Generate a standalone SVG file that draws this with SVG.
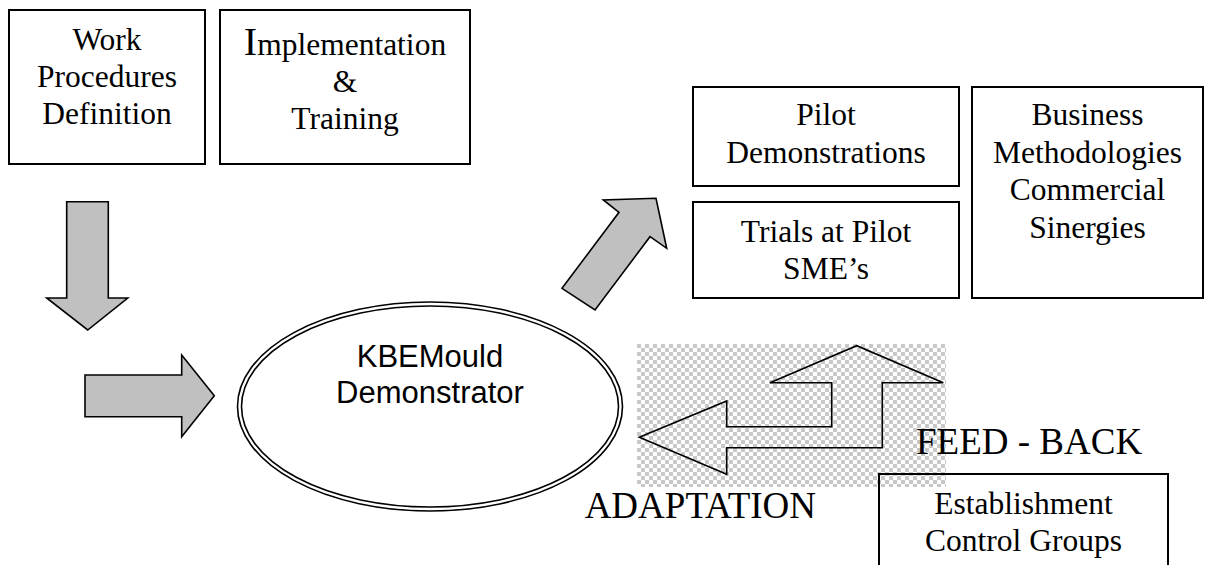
<svg xmlns="http://www.w3.org/2000/svg" width="1210" height="565" viewBox="0 0 1210 565">
<defs>
<style>
.box{fill:none;stroke:#000;stroke-width:2}
.t{font-family:"Liberation Serif","Times New Roman",serif;font-size:31.5px;fill:#000;text-anchor:middle}
.big{font-family:"Liberation Serif","Times New Roman",serif;font-size:37px;fill:#000}
.s{font-family:"Liberation Sans",Arial,sans-serif;font-size:31px;fill:#000;text-anchor:middle}
.arr{fill:#c0c0c0;stroke:#000;stroke-width:1.6;stroke-linejoin:miter}
.ell{fill:none;stroke:#000;stroke-width:1.6}
</style>
<pattern id="chk" x="637" y="344" width="8" height="8" patternUnits="userSpaceOnUse">
<rect width="8" height="8" fill="#ffffff"/>
<rect width="4" height="4" fill="#c8c8c8"/>
<rect x="4" y="4" width="4" height="4" fill="#c8c8c8"/>
</pattern>
</defs>
<rect width="1210" height="565" fill="#fff"/>

<g id="work-procedures">
<rect class="box" x="9" y="10" width="196" height="154"/>
<text class="t" x="107" y="50">Work</text>
<text class="t" x="107" y="86.5">Procedures</text>
<text class="t" x="107" y="124">Definition</text>
</g>

<g id="implementation">
<rect class="box" x="220" y="10" width="250" height="154"/>
<text class="t" x="345" y="55"><tspan font-size="40">I</tspan>mplementation</text>
<text class="t" x="345" y="92">&amp;</text>
<text class="t" x="345" y="129">Training</text>
</g>

<g id="pilot-demonstrations">
<rect class="box" x="693" y="87" width="266" height="99"/>
<text class="t" x="826" y="125">Pilot</text>
<text class="t" x="826" y="163">Demonstrations</text>
</g>

<g id="trials">
<rect class="box" x="693" y="202" width="266" height="96"/>
<text class="t" x="826" y="241.5">Trials at Pilot</text>
<text class="t" x="826" y="279">SME’s</text>
</g>

<g id="business">
<rect class="box" x="972" y="87" width="231" height="211"/>
<text class="t" x="1087.5" y="125">Business</text>
<text class="t" x="1087.5" y="162.5">Methodologies</text>
<text class="t" x="1087.5" y="200">Commercial</text>
<text class="t" x="1087.5" y="237.5">Sinergies</text>
</g>

<g id="demonstrator">
<ellipse class="ell" cx="430" cy="406.5" rx="192.5" ry="104.5"/>
<ellipse class="ell" cx="430" cy="406.5" rx="188.5" ry="100.5"/>
<text class="s" x="430" y="366.5">KBEMould</text>
<text class="s" x="430" y="402.5">Demonstrator</text>
</g>

<g id="feedback-area">
<rect x="637" y="344" width="309" height="143" fill="url(#chk)"/>
</g>

<g id="establishment">
<rect class="box" x="879" y="474" width="289" height="100"/>
<text class="t" x="1023.5" y="514">Establishment</text>
<text class="t" x="1023.5" y="551">Control Groups</text>
</g>

<g id="connectors">
<polygon class="arr" points="66.7,201.7 108.3,201.7 108.3,298 127.7,298 87.7,330 46.7,298 66.7,298"/>
<polygon class="arr" points="85,375 181.7,375 181.7,355 214.3,395.7 181.7,436.7 181.7,416.7 85,416.7"/>
<polygon class="arr" points="562,288.3 619,212.3 603.3,200 656,198.3 666.7,248.3 650,236.7 595,310"/>
<polygon fill="none" stroke="#000" stroke-width="1.6" points="639.3,437.3 726.7,401 726.7,426.7 831.7,426.7 831.7,382.7 770,382.7 856.7,345.7 943.3,382.7 882.3,382.7 882.3,447.7 726.7,447.7 726.7,474.3"/>
</g>

<g id="labels">
<text class="big" x="916" y="453.5">FEED - BACK</text>
<text class="big" x="816" y="518" text-anchor="end">ADAPTATION</text>
</g>
</svg>
